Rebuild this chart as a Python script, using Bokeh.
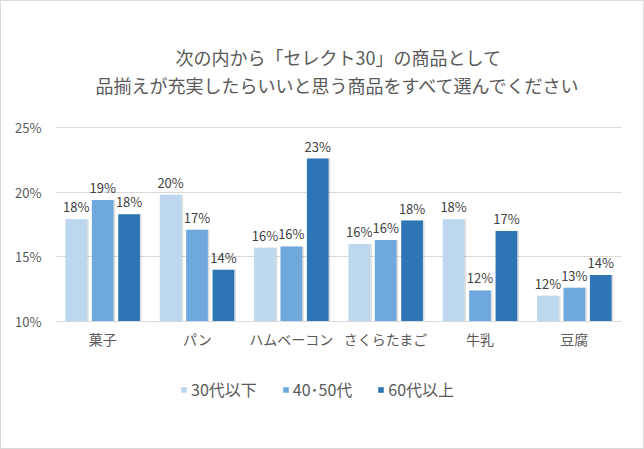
from bokeh.plotting import figure
from bokeh.models import ColumnDataSource, Legend, LegendItem, FactorRange, Range1d, FixedTicker, Label
from bokeh.transform import dodge
from bokeh.core.properties import value
from bokeh.embed import file_html
from bokeh.resources import INLINE

categories = ["菓子", "パン", "ハムベーコン", "さくらたまご", "牛乳", "豆腐"]
series_names = ["30代以下", "40･50代", "60代以上"]
v30 = [17.9, 19.8, 15.7, 16.0, 17.9, 12.0]
v4050 = [19.4, 17.1, 15.8, 16.3, 12.4, 12.6]
v60 = [18.3, 14.0, 22.6, 17.8, 17.0, 13.6]
y_ticks = [10, 15, 20, 25]
title_lines = ["次の内から「セレクト30」の商品として", "品揃えが充実したらいいと思う商品をすべて選んでください"]

colors = ["#BDD7EE", "#6FA8DC", "#2E75B6"]
FONT = "Noto Sans CJK JP"

# layout (pixels): value axis 10..25 spans 194 px; frame extends above and below it
AX_PX = 194.0
PX_ABOVE = 126.0
PX_BELOW = 90.0
unit = (y_ticks[-1] - y_ticks[0]) / AX_PX
y_lo = y_ticks[0] - PX_BELOW * unit
y_hi = y_ticks[-1] + PX_ABOVE * unit

p = figure(frame_width=566, frame_height=int(AX_PX + PX_ABOVE + PX_BELOW),
           x_range=FactorRange(*categories), y_range=Range1d(y_lo, y_hi),
           output_backend="svg", toolbar_location=None,
           min_border_left=54, min_border_right=22, min_border_top=0, min_border_bottom=37)
p.styles = {"border": "1px solid #d9d9d9"}
p.outline_line_color = None
p.background_fill_color = "white"
p.border_fill_color = "white"

p.xgrid.grid_line_color = None
p.ygrid.grid_line_color = "#d9d9d9"
p.ygrid.grid_line_width = 1
p.yaxis.ticker = FixedTicker(ticks=y_ticks)
p.yaxis.major_label_overrides = {t: f"{t}%" for t in y_ticks}
p.yaxis.axis_line_color = None
p.yaxis.major_tick_line_color = None
p.yaxis.minor_tick_line_color = None
p.yaxis.major_label_text_font = FONT
p.yaxis.major_label_text_font_size = "13px"
p.yaxis.major_label_text_color = "#595959"
p.yaxis.major_label_standoff = 8

p.xaxis.fixed_location = y_ticks[0]
p.xaxis.axis_line_color = "#d9d9d9"
p.xaxis.major_tick_line_color = None
p.xaxis.minor_tick_line_color = None
p.xaxis.major_label_text_font = FONT
p.xaxis.major_label_text_font_size = "14px"
p.xaxis.major_label_text_color = "#595959"
p.xaxis.major_label_standoff = 1

src = ColumnDataSource(dict(cat=categories, s0=v30, s1=v4050, s2=v60,
                            l0=[f"{round(v)}%" for v in v30],
                            l1=[f"{round(v)}%" for v in v4050],
                            l2=[f"{round(v)}%" for v in v60]))

offsets = [-0.28, 0.0, 0.28]
bw = 0.23
items = []
for i, (off, col, name) in enumerate(zip(offsets, colors, series_names)):
    p.vbar(x=dodge("cat", off + 0.018, range=p.x_range), top=f"s{i}", bottom=y_ticks[0], width=bw,
           source=src, fill_color="#7f7f7f", fill_alpha=0.25, line_color=None)
    r = p.vbar(x=dodge("cat", off, range=p.x_range), top=f"s{i}", bottom=y_ticks[0], width=bw,
               source=src, fill_color=col, line_color=None)
    items.append(LegendItem(label=name, renderers=[r]))
    p.text(x=dodge("cat", off, range=p.x_range), y=f"s{i}", text=f"l{i}", source=src,
           text_align="center", text_baseline="bottom", y_offset=-3,
           text_font=value(FONT), text_font_size="13px", text_color="#404040")

legend = Legend(items=items, orientation="horizontal", location=(125, 10),
                glyph_width=7, glyph_height=7, label_standoff=4, spacing=25,
                padding=0, margin=0, border_line_color=None, background_fill_alpha=0,
                label_text_font=FONT, label_text_font_size="16px", label_text_color="#595959")
p.add_layout(legend, "center")

for txt, yy in zip(title_lines, [355, 327]):
    p.add_layout(Label(x=283, y=yy, x_units="screen", y_units="screen", text=txt,
                       text_align="center", text_baseline="middle",
                       text_font=FONT, text_font_size="18px", text_color="#595959"))

open("out.html", "w").write(file_html(p, INLINE))
